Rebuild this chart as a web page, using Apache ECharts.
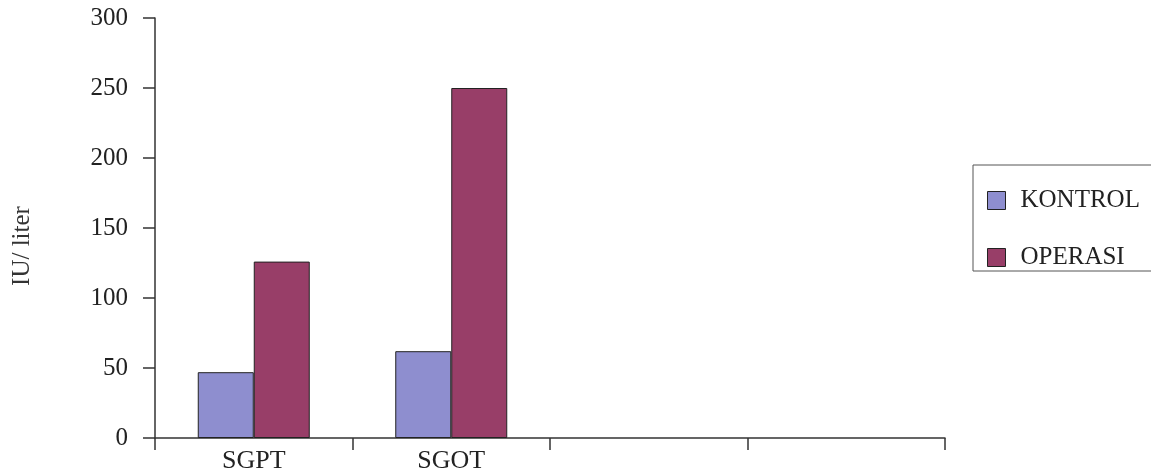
<!DOCTYPE html>
<html>
<head>
<meta charset="utf-8">
<script src="https://cdn.jsdelivr.net/npm/echarts@6/dist/echarts.min.js"></script>
<style>
  html, body { margin: 0; padding: 0; background: #fff; }
  #chart { width: 1151px; height: 474px; }
</style>
</head>
<body>
<div id="chart"></div>
<script>
const categories = ['SGPT', 'SGOT', '', '']
const kontrolValues = [47, 62, null, null]
const operasiValues = [126, 250, null, null]
const seriesNames = ['KONTROL', 'OPERASI']
const yAxisTitle = 'IU/ liter'

const font = 'Liberation Serif'
const axisColor = '#333'

const chart = echarts.init(document.getElementById('chart'))

const option = {
  backgroundColor: '#fff',
  animation: false,
  textStyle: { fontFamily: font },
  grid: {
    left: 155,
    right: 206,
    top: 18,
    bottom: 36
  },
  legend: {
    orient: 'vertical',
    left: 973,
    top: 165,
    data: seriesNames,
    icon: 'rect',
    itemWidth: 18,
    itemHeight: 18,
    itemGap: 32,
    padding: [23, 200, 1, 14],
    borderColor: '#555',
    borderWidth: 1,
    itemStyle: { borderColor: '#222', borderWidth: 1 },
    textStyle: {
      fontFamily: font,
      fontSize: 25,
      lineHeight: 22,
      color: '#222',
      padding: [0, 0, 0, 10]
    }
  },
  graphic: [
    {
      type: 'text',
      x: 22,
      y: 246,
      rotation: Math.PI / 2,
      style: {
        text: yAxisTitle,
        fontFamily: font,
        fontSize: 25,
        fill: '#333',
        align: 'center',
        verticalAlign: 'middle'
      }
    }
  ],
  xAxis: {
    type: 'category',
    data: categories,
    axisLine: { lineStyle: { color: axisColor, width: 1.5 } },
    axisTick: { show: true, length: 12, lineStyle: { color: axisColor, width: 1.5 } },
    axisLabel: {
      fontFamily: font,
      fontSize: 26,
      color: '#222',
      margin: 10
    }
  },
  yAxis: {
    type: 'value',
    min: 0,
    max: 300,
    interval: 50,
    axisLine: { show: true, lineStyle: { color: axisColor, width: 1.5 } },
    axisTick: { show: true, length: 12, lineStyle: { color: axisColor, width: 1.5 } },
    splitLine: { show: false },
    axisLabel: {
      fontFamily: font,
      fontSize: 25,
      color: '#222',
      margin: 27
    }
  },
  series: [
    {
      name: seriesNames[0],
      type: 'bar',
      data: kontrolValues,
      barWidth: 56,
      barGap: '0%',
      itemStyle: { color: '#8e8ecf', borderColor: '#222', borderWidth: 1 }
    },
    {
      name: seriesNames[1],
      type: 'bar',
      data: operasiValues,
      barWidth: 56,
      barGap: '0%',
      itemStyle: { color: '#983e68', borderColor: '#222', borderWidth: 1 }
    }
  ]
}

chart.setOption(option)
</script>
</body>
</html>
